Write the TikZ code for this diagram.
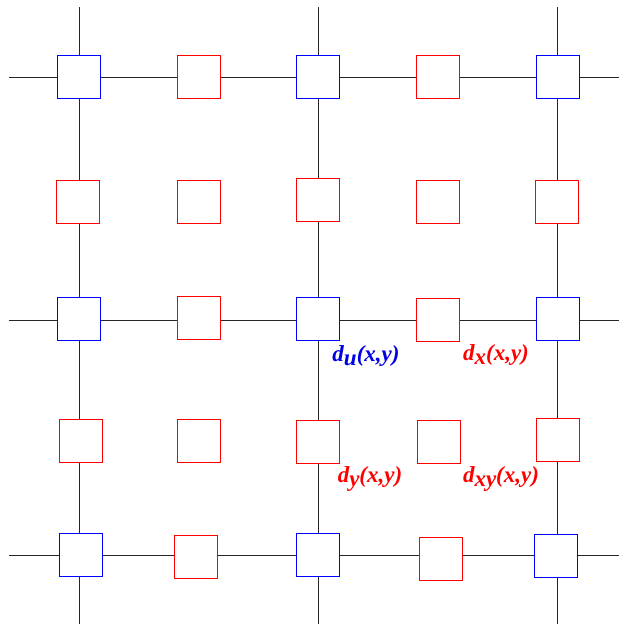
\documentclass[tikz,border=0pt]{standalone}
\usepackage{fontspec}
\setmainfont{Liberation Serif}
\begin{document}
\begin{tikzpicture}[x=1pt,y=-1pt,
  grid line/.style={line width=1pt,draw=black!85},
  cell/.style={draw,fill=white,line width=1pt,minimum size=43pt,inner sep=0pt,shape=rectangle},
  bcell/.style={cell,draw=blue},
  rcell/.style={cell,draw=red},
  lab/.style={font=\fontsize{23}{26}\selectfont\bfseries\itshape,inner sep=0pt}]
\useasboundingbox (0,0) rectangle (619,624);
% end points of the grid lines
\coordinate (v1t) at (79,7);    \coordinate (v1b) at (79,624);
\coordinate (v2t) at (318,7);   \coordinate (v2b) at (318,624);
\coordinate (v3t) at (557.5,7); \coordinate (v3b) at (557.5,624);
\coordinate (h1l) at (9,77);    \coordinate (h1r) at (619,77);
\coordinate (h2l) at (9,320);   \coordinate (h2r) at (619,320);
\coordinate (h3l) at (9,555.7); \coordinate (h3r) at (619,555.7);
\draw[grid line] (v1t) -- (v1b);
\draw[grid line] (v2t) -- (v2b);
\draw[grid line] (v3t) -- (v3b);
\draw[grid line] (h1l) -- (h1r);
\draw[grid line] (h2l) -- (h2r);
\draw[grid line] (h3l) -- (h3r);
% row 1
\node[bcell] (a11) at (79,77) {};
\node[rcell] (a12) at (198.5,77) {};
\node[bcell] (a13) at (318,77) {};
\node[rcell] (a14) at (437.5,77) {};
\node[bcell] (a15) at (557.5,77) {};
% row 2
\node[rcell] (a21) at (78,202) {};
\node[rcell] (a22) at (198.5,202) {};
\node[rcell] (a23) at (317.5,200) {};
\node[rcell] (a24) at (437.5,202) {};
\node[rcell] (a25) at (556.5,202) {};
% row 3
\node[bcell] (a31) at (79,319) {};
\node[rcell] (a32) at (198.5,318) {};
\node[bcell] (a33) at (317.5,319) {};
\node[rcell] (a34) at (438,320) {};
\node[bcell] (a35) at (557.5,319) {};
% row 4
\node[rcell] (a41) at (80.5,441) {};
\node[rcell] (a42) at (199.3,441) {};
\node[rcell] (a43) at (317.5,442) {};
\node[rcell] (a44) at (438.5,441.5) {};
\node[rcell] (a45) at (557.5,440) {};
% row 5
\node[bcell] (a51) at (80.5,555) {};
\node[rcell] (a52) at (195.7,557) {};
\node[bcell] (a53) at (317.5,555) {};
\node[rcell] (a54) at (440.7,559) {};
\node[bcell] (a55) at (556,555.5) {};
% labels
\node[lab,text=blue!90!black] (du) at (366,356) {d\raisebox{-4pt}{u}(x,y)};
\node[lab,text=red] (dx) at (496,355) {d\raisebox{-4pt}{x}(x,y)};
\node[lab,text=red] (dy) at (370,479) {d\raisebox{-4pt}{y}(x,y)};
\node[lab,text=red] (dxy) at (501,479) {d\raisebox{-4pt}{xy}(x,y)};
\end{tikzpicture}
\end{document}
